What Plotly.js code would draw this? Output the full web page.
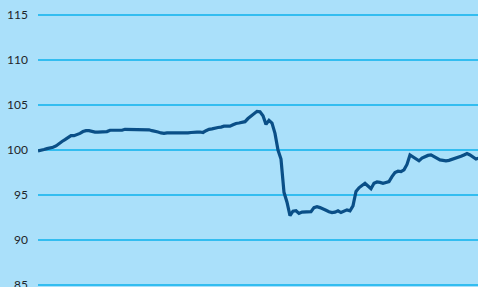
<!DOCTYPE html>
<html>
<head>
<meta charset="utf-8">
<script src="https://cdn.plot.ly/plotly-3.0.1.min.js"></script>
<style>html,body{margin:0;padding:0;background:#aae0fa;}#chart{width:478px;height:287px;}</style>
</head>
<body>
<div id="chart"></div>
<script>
const values = [
  99.9, 99.95, 100.05, 100.15, 100.2, 100.3, 100.45, 100.75, 100.95, 101.15,
  101.4, 101.6, 101.6, 101.7, 101.85, 102.05, 102.15, 102.15, 102.05, 102.0,
  102.0, 102.0, 102.0, 102.05, 102.2, 102.2, 102.2, 102.25, 102.2, 102.3,
  102.3, 102.3, 102.3, 102.3, 102.3, 102.3, 102.3, 102.25, 102.15, 102.1,
  102.0, 101.9, 101.85, 101.9, 101.9, 101.85, 101.85, 101.9, 101.9, 101.9,
  101.9, 101.95, 102.0, 102.0, 102.0, 101.95, 102.15, 102.3, 102.35, 102.45,
  102.5, 102.55, 102.65, 102.65, 102.65, 102.8, 102.95, 103.0, 103.05, 103.15,
  103.5, 103.75, 104.05, 104.3, 104.25, 103.8, 102.85, 103.3, 103.0, 101.85,
  100.0, 99.0, 95.3, 94.2, 92.7, 93.2, 93.25, 92.95, 93.1, 93.1,
  93.1, 93.15, 93.6, 93.7, 93.6, 93.4, 93.3, 93.15, 93.05, 93.1,
  93.25, 93.05, 93.2, 93.35, 93.25, 93.8, 95.4, 95.8, 96.05, 96.3,
  96.0, 95.7, 96.3, 96.45, 96.4, 96.3, 96.4, 96.5, 97.05, 97.5,
  97.65, 97.6, 97.8, 98.4, 99.45, 99.25, 99.05, 98.8, 99.1, 99.3,
  99.4, 99.45, 99.25, 99.1, 98.9, 98.85, 98.8, 98.85, 98.95, 99.1,
  99.2, 99.3, 99.45, 99.6, 99.45, 99.2, 99.0, 99.1
];
const yTicks = [85, 90, 95, 100, 105, 110, 115];
const yTickLabels = ['85', '90', '95', '100', '105', '110', '115'];

const xIdx = values.map((_, i) => i);

Plotly.newPlot('chart', [{
  type: 'scatter',
  mode: 'lines',
  x: xIdx,
  y: values,
  line: {color: '#0a4f87', width: 3.2},
  hoverinfo: 'skip'
}], {
  width: 478,
  height: 287,
  margin: {l: 38, r: 0, t: 0, b: 0, pad: 0},
  paper_bgcolor: '#aae0fa',
  plot_bgcolor: '#aae0fa',
  showlegend: false,
  xaxis: {
    range: [0, 146.67],
    showgrid: false, zeroline: false, showline: false,
    showticklabels: false, ticks: ''
  },
  yaxis: {
    range: [84.78, 116.67],
    tickvals: yTicks,
    ticktext: yTickLabels,
    showgrid: true,
    gridcolor: '#33bdf0',
    gridwidth: 1.5,
    zeroline: false, showline: false,
    ticks: '',
    ticklabelstandoff: 9,
    ticklabeloverflow: 'allow',
    tickfont: {family: 'Lato, "Open Sans", sans-serif', size: 12, color: '#1f2428'}
  }
}, {staticPlot: true, displayModeBar: false});
</script>
</body>
</html>
